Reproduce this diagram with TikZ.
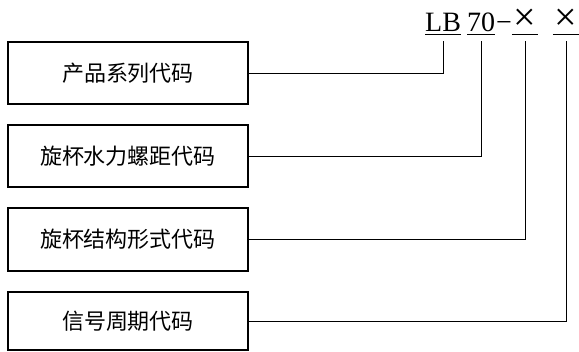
\documentclass[tikz,border=0pt]{standalone}
\usepackage{fontspec}
\setmainfont{Liberation Serif}
\newfontfamily\cjk{Noto Sans CJK SC}
\begin{document}
\begin{tikzpicture}[x=1pt,y=-1pt,
  box/.style={draw, line width=1.2pt, minimum width=240pt, minimum height=62pt, inner sep=0pt, font=\cjk\fontsize{22}{22}\selectfont},
  conn/.style={line width=0.9pt},
  code/.style={inner sep=0pt, anchor=base west, font=\fontsize{28}{28}\selectfont},
  xmark/.style={inner sep=0pt, minimum width=26pt, font=\fontsize{40}{40}\selectfont}]
\useasboundingbox (0,0) rectangle (579,352);
\node[box] (b1) at (128,73) {产品系列代码};
\node[box] (b2) at (128,156) {旋杯水力螺距代码};
\node[box, minimum height=63pt] (b3) at (128,239.5) {旋杯结构形式代码};
\node[box, minimum height=58pt] (b4) at (128,321) {信号周期代码};
\node[code] (lb) at (425,32) {LB};
\node[code] (n70) at (467,32) {70};
\node[code] (dash) at (496,32) {−};
\node[xmark] (x1) at (525,20) {×};
\node[xmark] (x2) at (566,20) {×};
\coordinate (ul) at (0,34.5);
\coordinate (top) at (0,41);
\draw[conn] (lb.west |- ul) -- (lb.east |- ul);
\draw[conn] (n70.west |- ul) -- (n70.east |- ul);
\draw[conn] (x1.west |- ul) -- (x1.east |- ul);
\draw[conn] (x2.west |- ul) -- (x2.east |- ul);
\draw[conn] (b1.east) -| (lb |- top);
\draw[conn] (b2.east) -| (n70 |- top);
\draw[conn] (b3.east) -| (x1 |- top);
\draw[conn] (b4.east) -| (x2 |- top);
\end{tikzpicture}
\end{document}
